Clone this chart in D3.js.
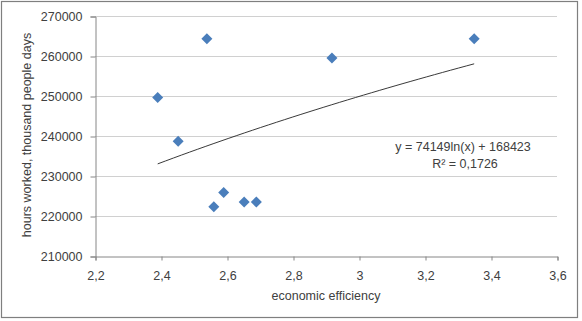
<!DOCTYPE html>
<html>
<head>
<meta charset="utf-8">
<script src="https://cdn.jsdelivr.net/npm/d3@7"></script>
<style>
  html, body { margin: 0; padding: 0; background: #fff; }
  svg { display: block; }
  text { font-family: "Liberation Sans", Arial, sans-serif; fill: #404040; }
</style>
</head>
<body>
<svg id="chart" width="582" height="321"></svg>
<script>
  'use strict';

  // economic efficiency vs hours worked
  const efficiency = [2.39, 2.452, 2.539, 2.56, 2.59, 2.652, 2.689, 2.918, 3.349];
  const hoursWorked = [249600, 238700, 264300, 222300, 225900, 223500, 223500, 259500, 264300];

  const xTicks = [2.2, 2.4, 2.6, 2.8, 3, 3.2, 3.4, 3.6];
  const yTicks = [210000, 220000, 230000, 240000, 250000, 260000, 270000];

  // trendline as printed on the chart
  const trendA = 74149;
  const trendB = 168423;
  const trendLabel = 'y = 74149ln(x) + 168423';
  const r2Label = 'R\u00b2 = 0,1726';

  const xTitle = 'economic efficiency';
  const yTitle = 'hours worked, thousand people days';

  const svg = d3.select('#chart');
  const margin = { top: 16, left: 95 };

  const x = d3.scaleLinear().domain([2.2, 3.6]).range([margin.left, 557]);
  const y = d3.scaleLinear().domain([210000, 270000]).range([256, margin.top]);
  const fmtX = function (v) { return String(v).replace('.', ','); };

  // outer border
  svg.append('rect')
    .attr('x', 1.5).attr('y', 1.5)
    .attr('width', 576).attr('height', 316)
    .attr('fill', '#fff')
    .attr('stroke', '#7f7f7f')
    .attr('stroke-width', 1.2);

  // gridlines
  svg.append('g')
    .selectAll('line')
    .data(yTicks.slice(1))
    .join('line')
    .attr('x1', x(2.2)).attr('x2', x(3.6))
    .attr('y1', function (d) { return Math.round(y(d)) + 0.5; })
    .attr('y2', function (d) { return Math.round(y(d)) + 0.5; })
    .attr('stroke', '#d0d0d0')
    .attr('stroke-width', 1);

  // y axis
  const yAxis = svg.append('g')
    .attr('transform', 'translate(' + (x(2.2) + 0.5) + ',0.5)')
    .call(d3.axisLeft(y).tickValues(yTicks).tickSize(5).tickPadding(8).tickFormat(d3.format('d')));
  // x axis
  const xAxis = svg.append('g')
    .attr('transform', 'translate(0.5,' + (y(210000) + 0.5) + ')')
    .call(d3.axisBottom(x).tickValues(xTicks).tickSize(4).tickPadding(11).tickFormat(fmtX));

  [yAxis, xAxis].forEach(function (ax) {
    ax.select('.domain').attr('stroke', '#868686');
    ax.selectAll('.tick line').attr('stroke', '#868686');
    ax.selectAll('.tick text')
      .attr('fill', '#404040')
      .style('font-family', '"Liberation Sans", Arial, sans-serif')
      .style('font-size', '12.5px');
  });

  // trendline, sampled along the fitted log curve
  const xs = d3.range(0, 41).map(function (i) {
    return efficiency[0] + (efficiency[efficiency.length - 1] - efficiency[0]) * i / 40;
  });
  const line = d3.line()
    .x(function (d) { return x(d); })
    .y(function (d) { return y(trendA * Math.log(d) + trendB); });
  svg.append('path')
    .datum(xs)
    .attr('d', line)
    .attr('fill', 'none')
    .attr('stroke', '#222')
    .attr('stroke-width', 0.9);

  // markers
  const points = efficiency.map(function (e, i) { return { x: e, y: hoursWorked[i] }; });
  svg.append('g')
    .selectAll('path')
    .data(points)
    .join('path')
    .attr('transform', function (d) { return 'translate(' + x(d.x) + ',' + y(d.y) + ')'; })
    .attr('d', 'M0,-5.5L5.5,0L0,5.5L-5.5,0Z')
    .attr('fill', '#4a7ebb');

  // trend label
  svg.append('text')
    .attr('x', 463).attr('y', 151)
    .attr('text-anchor', 'middle')
    .style('font-size', '12.5px')
    .text(trendLabel);
  svg.append('text')
    .attr('x', 465).attr('y', 168)
    .attr('text-anchor', 'middle')
    .style('font-size', '12.5px')
    .text(r2Label);

  // axis titles
  svg.append('text')
    .attr('x', 326).attr('y', 300)
    .attr('text-anchor', 'middle')
    .style('font-size', '12.5px')
    .text(xTitle);
  svg.append('text')
    .attr('transform', 'translate(31,135) rotate(-90)')
    .attr('text-anchor', 'middle')
    .style('font-size', '12.5px')
    .text(yTitle);
</script>
</body>
</html>
